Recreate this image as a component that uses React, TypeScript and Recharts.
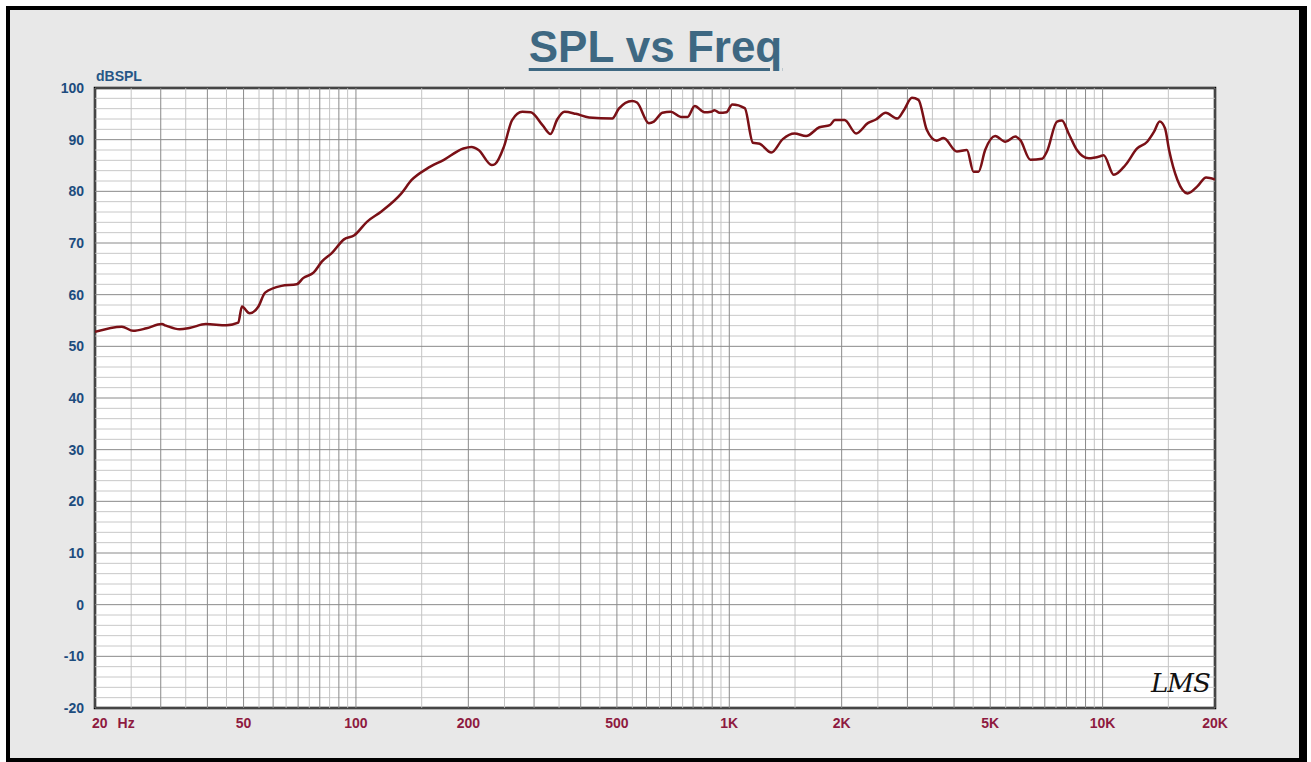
import { LineChart, Line, XAxis, YAxis, CartesianGrid, ReferenceLine, ReferenceArea } from "recharts";

const freqs = [
  20, 23.6, 25.3, 27.5, 30.2, 31, 33.7, 36, 39.6, 45, 48.4, 49.5, 51.9, 54.8, 57.1, 63.2, 69.4, 72.2, 77.1, 81,
  86, 92.9, 99, 107, 117, 132, 141, 155, 172, 194, 204, 213, 231, 236, 249, 262, 279, 294, 316, 332,
  346, 362, 388, 421, 486, 506, 549, 566, 609, 628, 662, 697, 742, 773, 808, 858, 894, 913, 942, 982,
  1019, 1100, 1157, 1206, 1296, 1391, 1495, 1606, 1743, 1860, 1918, 2036, 2187, 2350, 2470, 2625, 2818, 2935, 3085, 3212,
  3380, 3593, 3749, 4071, 4330, 4509, 4650, 4846, 5155, 5485, 5837, 6020, 6406, 6880, 7093, 7547, 7783, 8108, 8533, 9172,
  9859, 10066, 10711, 11513, 12374, 13166, 13723, 14216, 14692, 15066, 15866, 16881, 17961, 18936, 20000,
];
const spl = [
  52.8, 53.8, 53.0, 53.5, 54.3, 54.0, 53.3, 53.6, 54.3, 54.1, 54.6, 57.7, 56.4, 57.7, 60.4, 61.7, 62.0, 63.2, 64.3, 66.4,
  68.0, 70.7, 71.5, 74.1, 76.1, 79.5, 82.2, 84.4, 86.1, 88.3, 88.6, 88.0, 85.1, 85.3, 88.6, 93.8, 95.4, 95.3, 92.8, 91.1,
  93.9, 95.4, 95.0, 94.3, 94.1, 96.0, 97.5, 97.2, 93.2, 93.5, 95.2, 95.4, 94.4, 94.4, 96.5, 95.3, 95.4, 95.7, 95.2, 95.3,
  96.8, 96.1, 89.4, 89.2, 87.5, 90.1, 91.2, 90.7, 92.4, 92.8, 93.8, 93.8, 91.2, 93.2, 93.9, 95.2, 94.1, 95.7, 98.1, 97.7,
  91.9, 89.8, 90.3, 87.7, 88.0, 83.8, 83.8, 88.0, 90.7, 89.6, 90.6, 89.9, 86.1, 86.3, 87.7, 93.5, 93.7, 91.2, 88.0, 86.4,
  86.8, 87.0, 83.2, 85.1, 88.3, 89.6, 91.5, 93.5, 92.2, 88.0, 82.2, 79.6, 81.0, 82.7, 82.3,
];

const xTicks = [20, 50, 100, 200, 500, 1000, 2000, 5000, 10000, 20000];
const yTicks = [-20, -10, 0, 10, 20, 30, 40, 50, 60, 70, 80, 90, 100];
const decades = [10, 100, 1000, 10000];

const data = freqs.map((f, i) => ({ f, spl: spl[i] }));

// grid: whole multiples of each decade darker, half steps lighter
const majorX: number[] = [];
const minorX: number[] = [];
decades.forEach((d) => {
  for (let m = 1; m <= 9.5; m += 0.5) {
    const v = Math.round(d * m);
    if (v < 20 || v > 20000) continue;
    if (m % 1 === 0) majorX.push(v);
    else minorX.push(v);
  }
});
const minorY: number[] = [];
for (let v = -20; v <= 100; v += 2) if (v % 10 !== 0) minorY.push(v);

const FONT = "'Liberation Sans', Arial, sans-serif";
const fmtFreq = (v: number) => (v >= 1000 ? `${v / 1000}K` : `${v}`);

function FreqTick(props: any) {
  const { x, y, payload } = props;
  const style = { fontFamily: FONT, fontWeight: 700, fontSize: 14, fill: "#8e1a40" };
  if (payload.value === 20) {
    return (
      <text x={x - 3} y={y + 12} textAnchor="start" style={style}>
        20<tspan dx={10}>Hz</tspan>
      </text>
    );
  }
  return (
    <text x={x} y={y + 12} textAnchor="middle" style={style}>
      {fmtFreq(payload.value)}
    </text>
  );
}

export default function App() {
  return (
    <div style={{ position: "fixed", left: 0, top: 0, width: 1311, height: 762, background: "#fff", overflow: "hidden" }}>
      <div
        style={{
          position: "absolute",
          left: 6,
          top: 6,
          width: 1301,
          height: 756,
          boxSizing: "border-box",
          borderStyle: "solid",
          borderColor: "#000",
          borderWidth: "4px 8px 4px 4px",
          background: "#e8e8e8",
        }}
      />
      <div
        style={{
          position: "absolute",
          left: 0,
          top: 24,
          width: 1311,
          textAlign: "center",
          fontFamily: FONT,
          fontWeight: 700,
          fontSize: 44,
          lineHeight: "46px",
          color: "#3e6882",
          textDecoration: "underline",
          textDecorationThickness: 3,
          textUnderlineOffset: 6,
        }}
      >
        SPL vs Freq
      </div>
      <div
        style={{
          position: "absolute",
          left: 96,
          top: 68,
          fontFamily: FONT,
          fontWeight: 700,
          fontSize: 14,
          color: "#265686",
        }}
      >
        dBSPL
      </div>
      <div style={{ position: "absolute", left: 0, top: 0 }}>
        <LineChart width={1311} height={762} data={data} margin={{ top: 88, right: 96, bottom: 24, left: 55 }}>
          <CartesianGrid fill="#fff" horizontal={false} vertical={false} />
          {minorY.map((v) => (
            <ReferenceLine key={`hy${v}`} y={v} stroke="#c8c8c8" strokeWidth={1} />
          ))}
          {minorX.map((v) => (
            <ReferenceLine key={`vx${v}`} x={v} stroke="#c4c4c4" strokeWidth={1} />
          ))}
          {yTicks.map((v) => (
            <ReferenceLine key={`Hy${v}`} y={v} stroke="#8a8a8a" strokeWidth={1} />
          ))}
          {majorX.map((v) => (
            <ReferenceLine key={`Vx${v}`} x={v} stroke="#8a8a8a" strokeWidth={1} />
          ))}
          <ReferenceArea x1={20} x2={20000} y1={-20} y2={100} fill="none" stroke="#000" strokeWidth={2.5} />
          <XAxis
            dataKey="f"
            type="number"
            scale="log"
            domain={[20, 20000]}
            allowDataOverflow
            ticks={xTicks}
            interval={0}
            tick={<FreqTick />}
            tickLine={false}
            axisLine={false}
            height={30}
          />
          <YAxis
            type="number"
            domain={[-20, 100]}
            ticks={yTicks}
            interval={0}
            width={40}
            tickLine={false}
            axisLine={false}
            tickMargin={5}
            tick={{ fontFamily: FONT, fontWeight: 700, fontSize: 14, fill: "#1d4c7e" }}
          />
          <Line
            type="monotone"
            dataKey="spl"
            stroke="#7a1016"
            strokeWidth={2.5}
            dot={false}
            isAnimationActive={false}
          />
        </LineChart>
      </div>
      <div
        style={{
          position: "absolute",
          left: 1151,
          top: 668,
          fontFamily: "'DejaVu Serif', serif",
          fontStyle: "italic",
          fontSize: 26,
          color: "#111",
          letterSpacing: -1,
        }}
      >
        LMS
      </div>
    </div>
  );
}
